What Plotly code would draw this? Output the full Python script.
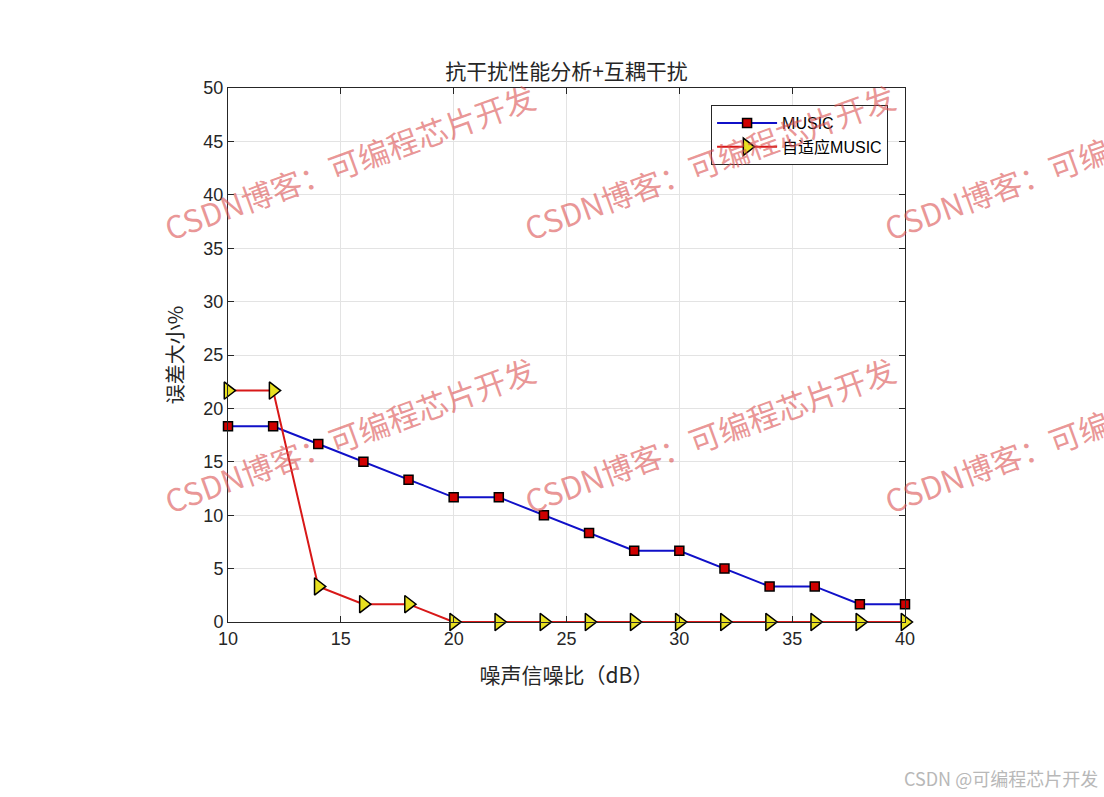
import plotly.graph_objects as go

snr = [10, 12, 14, 16, 18, 20, 22, 24, 26, 28, 30, 32, 34, 36, 38, 40]
music = [18.33, 18.33, 16.67, 15.0, 13.33, 11.67, 11.67, 10.0, 8.33, 6.67, 6.67, 5.0, 3.33, 3.33, 1.67, 1.67]
adaptive = [21.67, 21.67, 3.33, 1.67, 1.67, 0, 0, 0, 0, 0, 0, 0, 0, 0, 0, 0]
xticks = [10, 15, 20, 25, 30, 35, 40]
yticks = [0, 5, 10, 15, 20, 25, 30, 35, 40, 45, 50]

fig = go.Figure()
fig.add_trace(go.Scatter(
    x=snr, y=music, mode="lines+markers", name="MUSIC", cliponaxis=False,
    line=dict(color="#1010c8", width=2),
    marker=dict(symbol="square", size=9, color="#d00000", line=dict(color="black", width=1.5)),
))
fig.add_trace(go.Scatter(
    x=snr, y=adaptive, mode="lines+markers", name="自适应MUSIC", cliponaxis=False,
    line=dict(color="#d81818", width=2),
    marker=dict(symbol="triangle-right", size=15, color="#e8e020", line=dict(color="black", width=1.5)),
))

axis_common = dict(
    showline=True, linecolor="#262626", linewidth=1, mirror="ticks",
    ticks="inside", ticklen=6, tickcolor="#262626",
    showgrid=True, gridcolor="#e3e3e3", gridwidth=1, zeroline=False,
    tickfont=dict(family="Liberation Sans, Arial", size=18, color="#262626"),
)
fig.update_xaxes(range=[10, 40], tickvals=xticks, **axis_common,
                 title=dict(text="噪声信噪比（dB）", standoff=20,
                            font=dict(family="Noto Sans CJK SC", size=21, color="#262626")))
fig.update_yaxes(range=[0, 50], tickvals=yticks, **axis_common,
                 title=dict(text="误差大小%", standoff=14,
                            font=dict(family="Noto Sans CJK SC", size=20, color="#262626")))

fig.update_layout(
    width=1104, height=797,
    margin=dict(l=228, r=199, t=88, b=175),
    paper_bgcolor="white", plot_bgcolor="white",
    title=dict(text="抗干扰性能分析+互耦干扰", x=(228 + 905) / 2 / 1104, xanchor="center",
               y=1 - 72 / 797, yanchor="middle",
               font=dict(family="Noto Sans CJK SC", size=21, color="#262626")),
    legend=dict(x=0.975, y=0.968, xanchor="right", yanchor="top",
                bgcolor="white", bordercolor="#262626", borderwidth=1,
                font=dict(family="Liberation Sans, Noto Sans CJK SC", size=16, color="black"),
                tracegroupgap=0, itemwidth=60),
    showlegend=True,
)

wm = "CSDN博客：可编程芯片开发"
for yc in [0.862, 0.352]:
    for xc in [0.179, 0.711, 1.243]:
        fig.add_annotation(text=wm, xref="paper", yref="paper", x=xc, y=yc,
                           xanchor="center", yanchor="middle",
                           showarrow=False, textangle=-20,
                           font=dict(family="Noto Sans CJK SC", size=31, color="rgba(218,80,80,0.6)"))

fig.add_annotation(text="CSDN @可编程芯片开发", xref="paper", yref="paper",
                   x=(1100 - 228) / 677, y=1 - (778 - 88) / 534, xanchor="right", yanchor="middle",
                   showarrow=False,
                   font=dict(family="Noto Sans CJK SC", size=18, color="#b8b8b8"))

fig.write_html("out.html", config={"displayModeBar": False},
               post_script="document.body.style.margin='0px';document.body.style.overflow='hidden';")
